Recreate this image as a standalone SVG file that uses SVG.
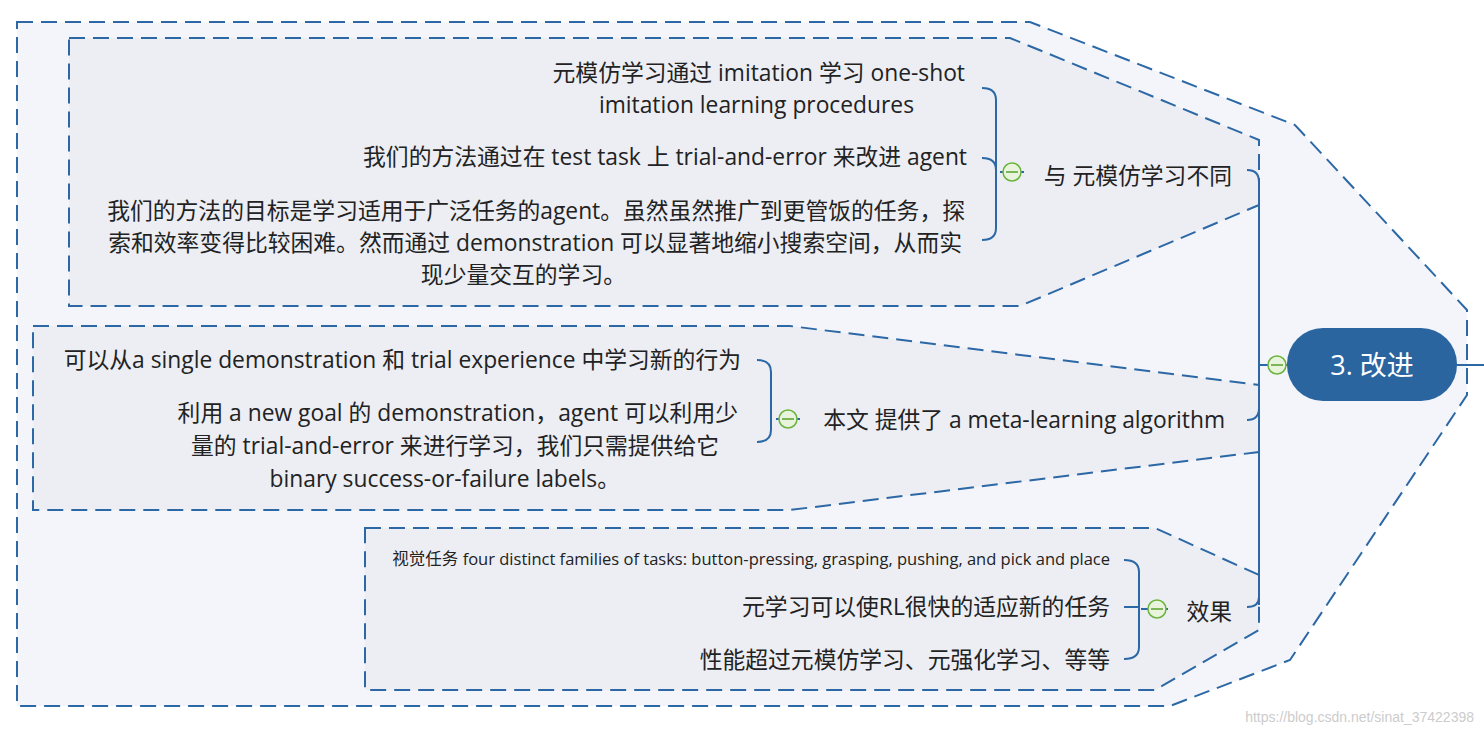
<svg xmlns="http://www.w3.org/2000/svg" width="1484" height="735" viewBox="0 0 1484 735">
<style>
.b{stroke:#2c68a5;stroke-width:2;stroke-dasharray:16,8}
.l{fill:none;stroke:#2c68a5;stroke-width:2}
.t{font-family:"Open Sans","Noto Sans CJK SC",sans-serif;font-size:22.8px;fill:#222;text-anchor:end}
.c{fill:#e8f5dc;stroke:#6bb33c;stroke-width:1.5}
.m{stroke:#5aa02c;stroke-width:1.5}
</style>
<rect width="1484" height="735" fill="#fff"/>
<g id="groups">
<polygon class="b" fill="#f4f5fa" points="17,22 1030,22 1295,125 1467,310 1467,395 1290,660 1170,706 17,706"/>
<polygon class="b" fill="#eceef4" points="69,38 1010,38 1259,140 1259,205 1020,306 69,306"/>
<polygon class="b" fill="#eceef4" points="33,326 790,326 1259,385 1259,452 790,510 33,510"/>
<polygon class="b" fill="#eceef4" points="365,528 1155,528 1259,575 1259,630 1155,690 365,690"/>
</g>
<g id="connectors">
<path class="l" d="M1287,365 H1259 M1259,182 V605 M1247,170 Q1259,170 1259,182 M1247,420 Q1259,420 1259,408 M1247,607 Q1259,607 1259,597 M1457,365 H1484"/>
<path class="l" d="M1000,172 H1024 M982,88 Q996,88 996,100 V228 Q996,240 982,240 M982,158 Q996,158 996,170"/>
<path class="l" d="M776,419 H800 M757,360 Q771,360 771,372 V430 Q771,442 757,442"/>
<path class="l" d="M1141,609 H1168 M1124,560 Q1139,560 1139,572 V647 Q1139,659 1124,659 M1124,607 H1139"/>
</g>
<g id="root">
<rect x="1287" y="328" width="170" height="73" rx="36" fill="#2a65a0"/>
<text x="1372" y="375" font-family="Open Sans,Noto Sans CJK SC,sans-serif" font-size="27" fill="#fff" text-anchor="middle">3. 改进</text>
<circle class="c" cx="1277" cy="365" r="9"/><path class="m" d="M1271,365 H1283"/>
</g>
<g id="n1">
<text class="t" x="1232" y="184">与 元模仿学习不同</text>
<circle class="c" cx="1012" cy="172" r="9"/><path class="m" d="M1006,172 H1018"/>
<text class="t" x="965" y="81">元模仿学习通过 imitation 学习 one-shot</text>
<text class="t" x="914" y="113">imitation learning procedures</text>
<text class="t" x="967" y="165">我们的方法通过在 test task 上 trial-and-error 来改进 agent</text>
<text class="t" x="965" y="219">我们的方法的目标是学习适用于广泛任务的agent。虽然虽然推广到更管饭的任务，探</text>
<text class="t" x="962" y="251">索和效率变得比较困难。然而通过 demonstration 可以显著地缩小搜索空间，从而实</text>
<text class="t" x="626" y="283">现少量交互的学习。</text>
</g>
<g id="n2">
<text class="t" x="1225" y="428">本文 提供了 a meta-learning algorithm</text>
<circle class="c" cx="788" cy="419" r="9"/><path class="m" d="M782,419 H794"/>
<text class="t" x="741" y="368">可以从a single demonstration 和 trial experience 中学习新的行为</text>
<text class="t" x="738" y="421">利用 a new goal 的 demonstration，agent 可以利用少</text>
<text class="t" x="719" y="454">量的 trial-and-error 来进行学习，我们只需提供给它</text>
<text class="t" x="620" y="487">binary success-or-failure labels。</text>
</g>
<g id="n3">
<text class="t" x="1232" y="620">效果</text>
<circle class="c" cx="1157" cy="609" r="9"/><path class="m" d="M1151,609 H1163"/>
<text class="t" x="1110" y="565" style="font-size:16.5px">视觉任务 four distinct families of tasks: button-pressing, grasping, pushing, and pick and place</text>
<text class="t" x="1110" y="615">元学习可以使RL很快的适应新的任务</text>
<text class="t" x="1110" y="668">性能超过元模仿学习、元强化学习、等等</text>
</g>
<text x="1474" y="722" font-family="Liberation Sans,sans-serif" font-size="14" fill="#ccc" text-anchor="end">https://blog.csdn.net/sinat_37422398</text>
</svg>
